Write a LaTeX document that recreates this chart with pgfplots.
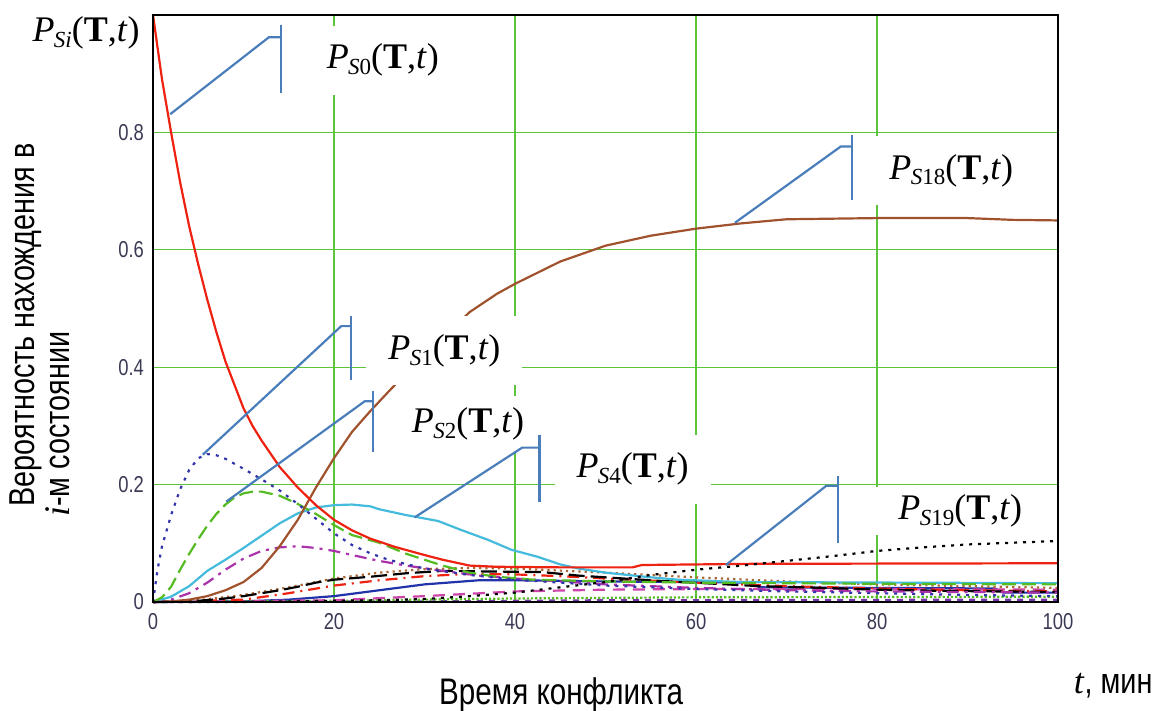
\documentclass[border=0pt]{standalone}
\usepackage{fontspec}
\setmainfont{Liberation Serif}
\newfontfamily\narrow[FakeStretch=0.8]{Liberation Sans}
\usepackage{pgfplots}
\pgfplotsset{compat=1.18}
\usepackage{pgfplotstable}
\definecolor{gridgreen}{HTML}{5CC43A}
\definecolor{callout}{HTML}{4A7EBB}
\definecolor{sred}{HTML}{EE2211}
\definecolor{sbrown}{HTML}{A0522D}
\definecolor{sblue}{HTML}{3333AA}
\definecolor{sgreen}{HTML}{55BB22}
\definecolor{scyan}{HTML}{44BBDD}
\definecolor{smag}{HTML}{AA33AA}
\definecolor{sdblue}{HTML}{2233AA}
\definecolor{sorange}{HTML}{AA6633}
\definecolor{spink}{HTML}{CC44AA}
\definecolor{spurp}{HTML}{7733AA}
\definecolor{tickc}{HTML}{3A3A55}
\newcommand{\PS}[1]{{\itshape P}\kern-0.3pt\raisebox{-0.35ex}{\fontsize{11.5}{11.5}\selectfont\itshape S\upshape #1}(\textbf{T},\textit{t})}

\pgfplotstableread{
t y
0 1.0
1 0.89
2 0.80
3 0.715
4 0.64
5 0.575
6 0.515
7 0.46
8 0.41
9 0.37
10 0.33
11 0.30
12 0.275
14 0.23
16 0.195
18 0.165
20 0.14
22 0.122
24 0.108
26.7 0.094
30 0.08
32 0.072
35 0.062
38 0.06
45 0.059
53 0.059
54 0.063
60 0.064
66 0.065
100 0.066
}\Szero
\pgfplotstableread{
t y
0 0
2 0.001
4 0.004
6 0.01
8 0.02
10 0.034
12 0.058
14 0.095
16 0.14
18 0.195
20 0.245
22 0.29
24 0.325
26 0.358
28 0.39
30 0.42
32 0.45
35 0.494
38 0.525
40 0.542
45 0.58
50 0.607
55 0.624
60 0.636
65 0.645
70 0.652
80 0.654
90 0.654
95 0.651
100 0.65
}\Seighteen
\pgfplotstableread{
t y
0 0
0.5 0.055
1 0.095
2 0.148
3 0.192
4 0.225
5 0.245
6 0.252
7 0.25
8 0.244
10 0.227
12 0.209
14 0.19
16 0.167
18 0.142
20 0.117
22 0.097
24 0.083
26 0.072
30 0.057
35 0.046
40 0.038
50 0.028
60 0.022
70 0.018
80 0.015
90 0.012
100 0.01
}\Sone
\pgfplotstableread{
t y
0 0
1 0.008
2 0.026
3 0.055
4 0.082
5 0.107
6 0.13
7 0.15
8 0.166
9 0.178
10 0.185
11 0.188
12 0.188
14 0.181
16 0.167
18 0.15
20 0.131
22 0.114
25 0.101
28 0.082
30 0.072
32 0.062
35 0.05
38 0.043
42 0.038
50 0.035
60 0.033
80 0.031
100 0.03
}\Stwo
\pgfplotstableread{
t y
0 0
2 0.009
4 0.027
6 0.053
8 0.072
10 0.092
12 0.113
14 0.134
16 0.151
18 0.161
20 0.165
22 0.166
24 0.163
25 0.158
28 0.148
31.5 0.138
34 0.123
37 0.106
39.6 0.089
42.5 0.077
45 0.064
47 0.057
50 0.05
55 0.042
58 0.038
65 0.034
100 0.032
}\Sfour
\pgfplotstableread{
t y
0 0
2 0.004
4 0.015
6 0.033
8 0.055
10 0.074
12 0.087
14 0.093
16 0.095
18 0.092
20 0.087
22 0.08
25 0.07
28 0.062
32 0.053
36 0.045
40 0.04
50 0.03
60 0.024
70 0.02
80 0.018
100 0.016
}\Smag
\pgfplotstableread{
t y
0 0
5 0.002
8 0.006
10 0.01
12 0.015
14 0.02
16 0.026
18 0.033
20 0.038
24 0.043
28 0.049
32 0.053
37 0.052
43 0.051
47 0.045
51 0.041
56 0.036
61 0.032
67 0.027
74 0.024
80 0.021
87 0.019
100 0.017
}\Sblackdash
\pgfplotstableread{
t y
0 0
10 0.004
15 0.015
20 0.028
25 0.037
30 0.044
35 0.048
40 0.047
45 0.044
50 0.04
60 0.033
70 0.027
80 0.023
90 0.02
100 0.018
}\Sreddash
\pgfplotstableread{
t y
0 0
10 0.001
15 0.004
20 0.01
25 0.02
30 0.03
36 0.037
40 0.037
50 0.035
60 0.034
66 0.033
67 0.025
80 0.024
93 0.023
94 0.016
100 0.016
}\Sdblue
\pgfplotstableread{
t y
0 0
10 0.0
20 0.002
25 0.003
30 0.005
35 0.01
40 0.016
45 0.025
50 0.034
55 0.046
60 0.055
65 0.062
70 0.07
75 0.078
80 0.087
85 0.093
90 0.098
95 0.101
100 0.104
}\Snineteen
\pgfplotstableread{
t y
0 0
5 0.003
10 0.012
15 0.025
20 0.04
25 0.05
30 0.056
35 0.058
40 0.057
50 0.05
60 0.042
70 0.035
80 0.03
100 0.024
}\Sorange
\pgfplotstableread{
t y
0 0
20 0.003
30 0.01
40 0.018
50 0.021
60 0.022
80 0.022
100 0.021
}\Spink
\pgfplotstableread{
t y
0 0
20 0.002
40 0.006
60 0.008
100 0.009
}\Sgdot
\pgfplotstableread{
t y
0 0
30 0.001
50 0.003
100 0.004
}\Spurp

\begin{document}
\begin{tikzpicture}
\begin{axis}[
  scale only axis,
  width=452.5pt, height=293.5pt,
  xmin=0, xmax=100, ymin=0, ymax=1,
  xtick={0,20,40,60,80,100},
  ytick={0,0.2,0.4,0.6,0.8},
  grid=major,
  major grid style={draw=gridgreen, line width=0.6pt},
  major tick length=0pt,
  axis line style={black, line width=1.1pt},
  clip=false,
  /pgf/number format/assume math mode=true,
  ticklabel style={font=\narrow\fontsize{11.5}{12}\selectfont, text=tickc},
  yticklabel style={xshift=-1pt},
  xticklabel style={yshift=-2pt},
  every axis plot/.append style={line width=1.1pt},
]
\addplot[sdblue] table[x=t,y=y] {\Sdblue};
\addplot[spurp, dashed] table[x=t,y=y] {\Spurp};
\addplot[sgreen, densely dotted] table[x=t,y=y] {\Sgdot};
\addplot[spink, dash pattern=on 6pt off 4pt] table[x=t,y=y] {\Spink};
\addplot[sorange, dotted] table[x=t,y=y] {\Sorange};
\addplot[sred, dash pattern=on 6pt off 3pt on 1pt off 3pt] table[x=t,y=y] {\Sreddash};
\addplot[black, dash pattern=on 8pt off 3pt] table[x=t,y=y] {\Sblackdash};
\addplot[smag, dash pattern=on 6pt off 3pt on 1.5pt off 3pt] table[x=t,y=y] {\Smag};
\addplot[scyan] table[x=t,y=y] {\Sfour};
\addplot[sgreen, dash pattern=on 7pt off 3pt] table[x=t,y=y] {\Stwo};
\addplot[sblue, dash pattern=on 1.5pt off 3pt] table[x=t,y=y] {\Sone};
\addplot[sbrown] table[x=t,y=y] {\Seighteen};
\addplot[sred] table[x=t,y=y] {\Szero};

% labels (white boxes hide grid and curves behind them)
\tikzset{plab/.style={fill=white, inner xsep=11pt, inner ysep=9pt, font=\fontsize{18}{20}\selectfont}}
\node[plab] at (axis cs:25.4,0.923) {\PS{0}};
\node[plab] at (axis cs:88.2,0.735) {\PS{18}};
\node[plab] at (axis cs:32.2,0.428) {\PS{1}};
\node[plab, inner ysep=6pt] at (axis cs:34.8,0.303) {\PS{2}};
\node[plab] at (axis cs:53.0,0.226) {\PS{4}};
\node[plab, inner ysep=4pt] at (axis cs:89.2,0.155) {\PS{19}};
\node[font=\fontsize{18}{20}\selectfont] at (axis cs:-7.4,0.969) {\PS{\itshape i}};

\addplot[black, dash pattern=on 1.5pt off 3pt] table[x=t,y=y] {\Snineteen};

% callouts
\draw[callout, line width=1.1pt] (axis cs:1.9,0.831) -- (axis cs:12.8,0.962) -- (axis cs:14.1,0.962);
\draw[callout, line width=1.1pt] (axis cs:14.1,0.983) -- (axis cs:14.1,0.867);
\draw[callout, line width=1.1pt] (axis cs:64.3,0.646) -- (axis cs:76,0.776) -- (axis cs:77.2,0.776);
\draw[callout, line width=1.1pt] (axis cs:77.2,0.795) -- (axis cs:77.2,0.684);
\draw[callout, line width=1.1pt] (axis cs:5.5,0.251) -- (axis cs:20.8,0.470) -- (axis cs:21.9,0.470);
\draw[callout, line width=1.1pt] (axis cs:21.9,0.487) -- (axis cs:21.9,0.379);
\draw[callout, line width=1.1pt] (axis cs:8.1,0.171) -- (axis cs:23.4,0.342) -- (axis cs:24.3,0.342);
\draw[callout, line width=1.1pt] (axis cs:24.3,0.359) -- (axis cs:24.3,0.255);
\draw[callout, line width=1.1pt] (axis cs:28.9,0.144) -- (axis cs:40.8,0.263) -- (axis cs:42.7,0.263);
\draw[callout, line width=1.1pt] (axis cs:42.7,0.285) -- (axis cs:42.7,0.171);
\draw[callout, line width=1.1pt] (axis cs:63.3,0.063) -- (axis cs:74.4,0.198) -- (axis cs:75.7,0.198);
\draw[callout, line width=1.1pt] (axis cs:75.7,0.215) -- (axis cs:75.7,0.101);

% frame on top
\draw[black, line width=1.1pt] (axis cs:0,0) rectangle (axis cs:100,1);

\node[font=\narrow\fontsize{18.5}{20}\selectfont] at (axis cs:45.1,-0.159) {Время конфликта};
\node[font=\fontsize{18}{20}\selectfont] at (axis cs:106.1,-0.142) {\textit{t}\narrow, мин};
\node[rotate=90, font=\narrow\fontsize{18}{20}\selectfont] at (axis cs:-14.0,0.472) {Вероятность нахождения в};
\node[rotate=90, font=\narrow\fontsize{18}{20}\selectfont] at (axis cs:-10.5,0.303) {\textit{\fontspec{Liberation Serif}i}-м состоянии};
\end{axis}
\pgfresetboundingbox
\path[use as bounding box] (-76.5pt,-54.5pt) rectangle (501.5pt,301pt);
\end{tikzpicture}
\end{document}
